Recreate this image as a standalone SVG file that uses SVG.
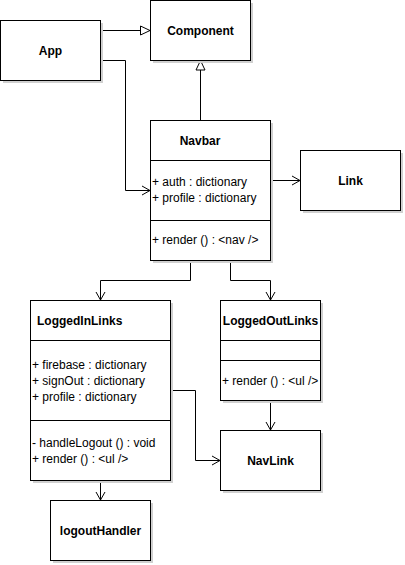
<svg xmlns="http://www.w3.org/2000/svg" width="405" height="565" viewBox="0 0 405 565">
<style>
.box{fill:#fff;stroke:#000;stroke-width:1}
.sh{fill:#d0d0d0;stroke:none}
.ln{fill:none;stroke:#000;stroke-width:1}
.t{font-family:"Liberation Sans",Arial,sans-serif;font-size:12px;font-weight:bold;fill:#000}
.a{font-family:"Liberation Sans",Arial,sans-serif;font-size:12px;fill:#000}
</style>
<defs>
<marker id="tri" markerWidth="12" markerHeight="12" refX="10" refY="5" orient="auto" markerUnits="userSpaceOnUse" viewBox="0 0 12 10">
<path d="M0.5,0.5 L10,5 L0.5,9.5 Z" fill="#fff" stroke="#000" stroke-width="1"/>
</marker>
<marker id="open" markerWidth="10" markerHeight="12" refX="8" refY="5" orient="auto" markerUnits="userSpaceOnUse" viewBox="0 0 10 10">
<path d="M0,0.5 L8,5 L0,9.5" fill="none" stroke="#000" stroke-width="1"/>
</marker>
</defs>
<rect width="405" height="565" fill="#fff"/>
<g id="connectors">
<path class="ln" d="M100.5,30.5 H150" marker-end="url(#tri)"/>
<path class="ln" d="M200.5,120 V60.5" marker-end="url(#tri)"/>
<path class="ln" d="M100,60.5 H125.5 V190.5 H150" marker-end="url(#open)"/>
<path class="ln" d="M270,180.5 H300" marker-end="url(#open)"/>
<path class="ln" d="M190.5,260 V280.5 H100.5 V300" marker-end="url(#open)"/>
<path class="ln" d="M230.5,260 V280.5 H270.5 V300" marker-end="url(#open)"/>
<path class="ln" d="M270.5,400 V430" marker-end="url(#open)"/>
<path class="ln" d="M170,390.5 H195.5 V460.5 H220" marker-end="url(#open)"/>
<path class="ln" d="M100.5,480 V500" marker-end="url(#open)"/>
</g>
<g id="App">
<rect class="sh" x="3" y="23" width="100" height="60"/>
<rect class="box" x="0.5" y="20.5" width="100" height="60"/>
<text class="t" x="50.5" y="54.5" text-anchor="middle">App</text>
</g>
<g id="Component">
<rect class="sh" x="153" y="3" width="100" height="60"/>
<rect class="box" x="150.5" y="0.5" width="100" height="60"/>
<text class="t" x="200.5" y="34.5" text-anchor="middle">Component</text>
</g>
<g id="Navbar">
<rect class="sh" x="153" y="123" width="120" height="140"/>
<rect class="box" x="150.5" y="120.5" width="120" height="140"/>
<path class="ln" d="M150.5,160.5 H270.5 M150.5,220.5 H270.5"/>
<text class="t" x="200" y="144.5" text-anchor="middle">Navbar</text>
<text class="a" x="152" y="186">+ auth : dictionary</text>
<text class="a" x="152" y="202">+ profile : dictionary</text>
<text class="a" x="152" y="244">+ render () : &lt;nav /&gt;</text>
</g>
<g id="Link">
<rect class="sh" x="303" y="153" width="100" height="60"/>
<rect class="box" x="300.5" y="150.5" width="100" height="60"/>
<text class="t" x="350.5" y="184.5" text-anchor="middle">Link</text>
</g>
<g id="LoggedInLinks">
<rect class="sh" x="33" y="303" width="140" height="180"/>
<rect class="box" x="30.5" y="300.5" width="140" height="180"/>
<path class="ln" d="M30.5,340.5 H170.5 M30.5,420.5 H170.5"/>
<text class="t" x="37" y="324.5">LoggedInLinks</text>
<text class="a" x="32" y="369">+ firebase : dictionary</text>
<text class="a" x="32" y="385">+ signOut : dictionary</text>
<text class="a" x="32" y="401">+ profile : dictionary</text>
<text class="a" x="32" y="447">- handleLogout () : void</text>
<text class="a" x="32" y="463">+ render () : &lt;ul /&gt;</text>
</g>
<g id="LoggedOutLinks">
<rect class="sh" x="223" y="303" width="100" height="100"/>
<rect class="box" x="220.5" y="300.5" width="100" height="100"/>
<path class="ln" d="M220.5,340.5 H320.5 M220.5,360.5 H320.5"/>
<text class="t" x="270.5" y="324.5" text-anchor="middle">LoggedOutLinks</text>
<text class="a" x="222" y="385">+ render () : &lt;ul /&gt;</text>
</g>
<g id="NavLink">
<rect class="sh" x="223" y="433" width="100" height="60"/>
<rect class="box" x="220.5" y="430.5" width="100" height="60"/>
<text class="t" x="270.5" y="464.5" text-anchor="middle">NavLink</text>
</g>
<g id="logoutHandler">
<rect class="sh" x="53" y="503" width="100" height="60"/>
<rect class="box" x="50.5" y="500.5" width="100" height="60"/>
<text class="t" x="100.5" y="534.5" text-anchor="middle">logoutHandler</text>
</g>
</svg>
